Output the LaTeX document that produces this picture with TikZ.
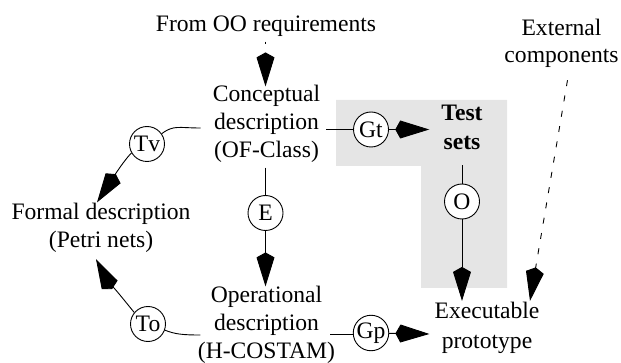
\documentclass[tikz,border=0pt]{standalone}
\usepackage{fontspec}
\setmainfont{Liberation Serif}
\usetikzlibrary{arrows.meta,calc}
\definecolor{panelgray}{RGB}{229,229,229}
\tikzset{
  lbl/.style={font=\fontsize{23.6}{28}\selectfont, align=center, inner sep=0pt},
  op/.style={draw, circle, fill=white, minimum size=35pt, inner sep=0pt,
    font=\fontsize{23.6}{28}\selectfont, line width=0.9pt},
  link/.style={line width=0.9pt},
  flow/.style={link, -{Kite[length=34pt,width=18pt,inset=5pt]}},
  extflow/.style={flow, dash pattern=on 6pt off 9.5pt},
}
\begin{document}
\begin{tikzpicture}[x=1pt,y=-1pt]
\useasboundingbox (0,0) rectangle (621,363);

% shaded panel behind the test sets
\fill[panelgray] (336,100) -- (507,100) -- (507,288) -- (421,288)
  -- (421,166) -- (336,166) -- cycle;

% text blocks (each placed at the baseline of its last line)
\node[lbl, anchor=base] (req) at (266,32) {From OO requirements};
\node[lbl, anchor=base] (concept) at (266.5,158) {Conceptual\\description\\(OF-Class)};
\node[lbl, anchor=base] (formal) at (101,248) {Formal description\\(Petri nets)};
\node[lbl, anchor=base] (oper) at (266.5,358) {Operational\\description\\(H-COSTAM)};
\node[lbl, anchor=base, font=\fontsize{23.6}{29}\selectfont\bfseries] (test) at (462,150) {Test\\sets};
\node[lbl, anchor=base, font=\fontsize{23.6}{29}\selectfont] (exe) at (487,348) {Executable\\prototype};
\node[lbl, anchor=base, font=\fontsize{23.6}{27}\selectfont] (ext) at (561.5,63) {External\\components};

% transformation circles
\node[op] (tv) at (147,144) {Tv};
\node[op] (gt) at (371,129.5) {Gt};
\node[op] (e) at (265.5,213) {E};
\node[op] (o) at (462,201.5) {O};
\node[op] (to) at (148,324) {To};
\node[op] (gp) at (371,333) {Gp};

% incoming requirements
\draw[flow, dash pattern=on 2.5pt off 40pt, dash phase=38pt] (req.south -| e) -- ($(concept.north -| e)+(0,1)$);

% conceptual description -> test sets
\draw[link] ($(concept.east |- gt)+(6,0)$) -- (gt);
\draw[flow] (gt) -- ($(test.west |- gt)+(-12,0)$);

% test sets -> executable prototype
\draw[link] ($(test.south)+(0,15)$) -- (o);
\draw[flow] (o) -- ($(exe.north -| o)+(0,-1.5)$);

% external components
\draw[extflow] ($(ext.south)+(6,12)$) -- ($(exe.north)+(43,-1.5)$);

% conceptual -> operational
\draw[link] ($(concept.south -| e)+(0,4.5)$) -- (e);
\draw[flow] (e) -- ($(oper.north -| e)+(0,1)$);

% operational description -> executable prototype
\draw[link] ($(oper.east |- gp)+(-5,1)$) -- ($(gp.west)+(0,1)$);
\draw[flow] (gp) -- ($(exe.west |- gp)+(-5,1)$);

% verification towards the formal description
\draw[link] ($(concept.west |- gt)+(-12,-1.5)$) .. controls +(-22,0) and +(12,-9) .. (tv.35);
\draw[flow] (tv.210) .. controls +(-10,10) and +(8,-12) .. ($(formal.north)+(-4,-1)$);
\draw[link] ($(oper.west |- gp)+(2.7,2)$) .. controls +(-18,0) and +(10,4) .. (to.-20);
\draw[flow] (to.140) .. controls +(-10,-12) and +(8,15) .. ($(formal.south)+(-5,6)$);
\end{tikzpicture}
\end{document}
